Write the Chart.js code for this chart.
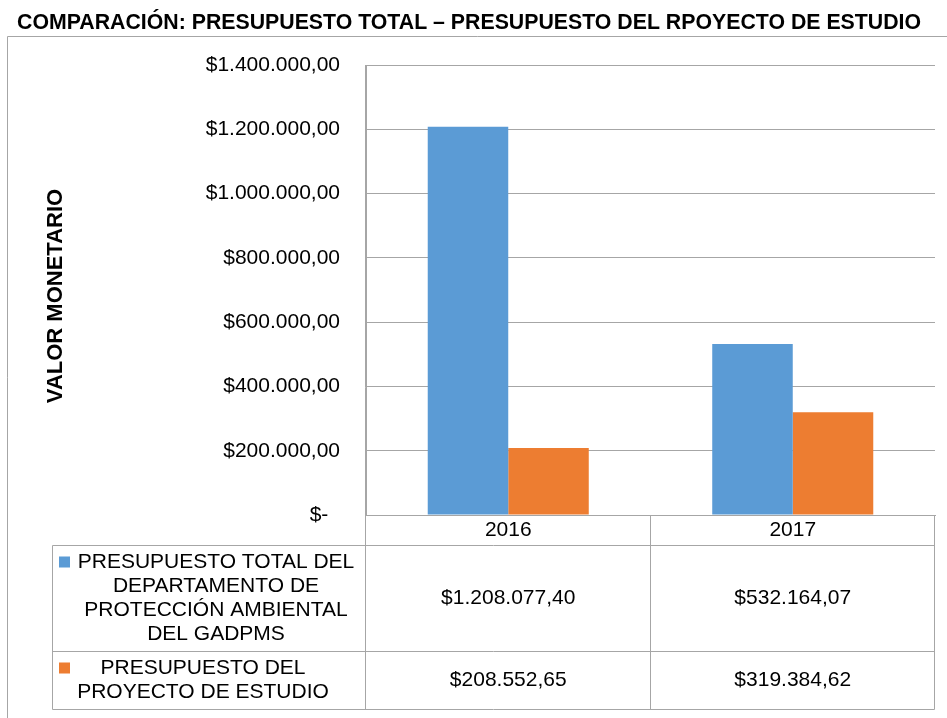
<!DOCTYPE html>
<html>
<head>
<meta charset="utf-8">
<script src="https://cdn.jsdelivr.net/npm/chart.js@4/dist/chart.umd.min.js"></script>
<style>
  html, body { margin: 0; padding: 0; background: #fff; }
  canvas { display: block; }
</style>
</head>
<body>
<canvas id="myChart" width="947" height="718"></canvas>
<script>
// data
const years = ['2016', '2017'];
const totalDept = [1208077.40, 532164.07];
const proyecto = [208552.65, 319384.62];
const seriesNames = [
    ['PRESUPUESTO TOTAL DEL', 'DEPARTAMENTO DE', 'PROTECCIÓN AMBIENTAL', 'DEL GADPMS'],
    ['PRESUPUESTO DEL', 'PROYECTO DE ESTUDIO']
];
const chartTitle = 'COMPARACIÓN: PRESUPUESTO TOTAL – PRESUPUESTO DEL RPOYECTO DE ESTUDIO';
const axisTitle = 'VALOR MONETARIO';
const yMax = 1400000;
const yStep = 200000;

const colors = ['#5b9bd5', '#ed7d31'];
const lineColor = '#a6a6a6';
const FONT = '"Liberation Sans", Arial, sans-serif';

function money(v) {
    if (v === 0) return '$-  ';
    var parts = v.toFixed(2).split('.');
    return '$' + parts[0].replace(/\B(?=(\d{3})+(?!\d))/g, '.') + ',' + parts[1];
}

// title, frame, axis title and the Excel style data table
const tablePlugin = {
    id: 'dataTable',
    afterDraw(chart) {
        const ctx = chart.ctx;
        const area = chart.chartArea;
        const x = chart.scales.x;
        const tableLeft = 52.5;
        const left = Math.round(area.left) - 0.5;
        const right = Math.round(area.right) - 0.5;
        const mid = Math.round((x.getPixelForValue(0) + x.getPixelForValue(1)) / 2) - 0.5;
        const y0 = Math.round(area.bottom) + 0.5;
        const y1 = y0 + 30, y2 = y1 + 106, y3 = y2 + 58;

        ctx.save();
        // outer frame of the chart
        ctx.strokeStyle = lineColor;
        ctx.lineWidth = 1;
        ctx.beginPath();
        ctx.moveTo(7.5, 718);
        ctx.lineTo(7.5, 36.5);
        ctx.lineTo(947, 36.5);
        ctx.stroke();

        // title
        ctx.fillStyle = '#000';
        ctx.font = 'bold 21.3px ' + FONT;
        ctx.textAlign = 'left';
        ctx.textBaseline = 'middle';
        ctx.fillText(chartTitle, 17, 23);

        // y axis title
        ctx.save();
        ctx.translate(56, 296);
        ctx.rotate(-Math.PI / 2);
        ctx.textAlign = 'center';
        ctx.font = 'bold 22px ' + FONT;
        ctx.fillText(axisTitle, 0, 0);
        ctx.restore();

        // table grid
        ctx.beginPath();
        ctx.moveTo(left, area.top); ctx.lineTo(left, y3);
        ctx.moveTo(mid, y0); ctx.lineTo(mid, y3);
        ctx.moveTo(right, y0); ctx.lineTo(right, y3);
        ctx.moveTo(tableLeft, y1); ctx.lineTo(tableLeft, y3);
        ctx.moveTo(left, y0); ctx.lineTo(right, y0);
        ctx.moveTo(tableLeft, y1); ctx.lineTo(right, y1);
        ctx.moveTo(tableLeft, y2); ctx.lineTo(right, y2);
        ctx.moveTo(tableLeft, y3); ctx.lineTo(right, y3);
        ctx.stroke();

        ctx.font = '21px ' + FONT;
        ctx.textAlign = 'center';
        ctx.textBaseline = 'middle';
        // header
        years.forEach(function (yr, i) {
            ctx.fillText(yr, x.getPixelForValue(i), (y0 + y1) / 2);
        });
        // rows
        const rows = [[y1, y2, totalDept, 216], [y2, y3, proyecto, 203]];
        rows.forEach(function (r, s) {
            const cy = (r[0] + r[1]) / 2;
            const lines = seriesNames[s];
            const firstY = cy - (lines.length - 1) * 24 / 2;
            ctx.fillStyle = colors[s];
            ctx.fillRect(59, firstY - 6, 11, 11);
            ctx.fillStyle = '#000';
            lines.forEach(function (t, k) {
                ctx.fillText(t, r[3], firstY + k * 24);
            });
            r[2].forEach(function (v, i) {
                ctx.fillText(money(v), x.getPixelForValue(i), cy);
            });
        });
        ctx.restore();
    }
};

const ctx = document.getElementById('myChart').getContext('2d');
const myChart = new Chart(ctx, {
    type: 'bar',
    data: {
        labels: years,
        datasets: [
            { label: seriesNames[0].join(' '), data: totalDept, backgroundColor: colors[0] },
            { label: seriesNames[1].join(' '), data: proyecto, backgroundColor: colors[1] }
        ]
    },
    options: {
        responsive: false,
        animation: false,
        devicePixelRatio: 1,
        layout: { padding: { top: 65, right: 12, left: 0, bottom: 0 } },
        datasets: { bar: { barPercentage: 1, categoryPercentage: 0.566 } },
        plugins: { legend: { display: false }, tooltip: { enabled: false } },
        scales: {
            x: {
                grid: { display: false },
                border: { display: true, color: lineColor },
                ticks: { display: false },
                afterFit: function (scale) { scale.height = 203; }
            },
            y: {
                min: 0,
                max: yMax,
                ticks: {
                    stepSize: yStep,
                    padding: 26,
                    color: '#000',
                    font: { family: FONT, size: 21 },
                    callback: function (v) { return money(v); }
                },
                grid: { color: lineColor, drawTicks: false },
                border: { display: true, color: lineColor },
                afterFit: function (scale) { scale.width = 366; }
            }
        }
    },
    plugins: [tablePlugin]
});
</script>
</body>
</html>
